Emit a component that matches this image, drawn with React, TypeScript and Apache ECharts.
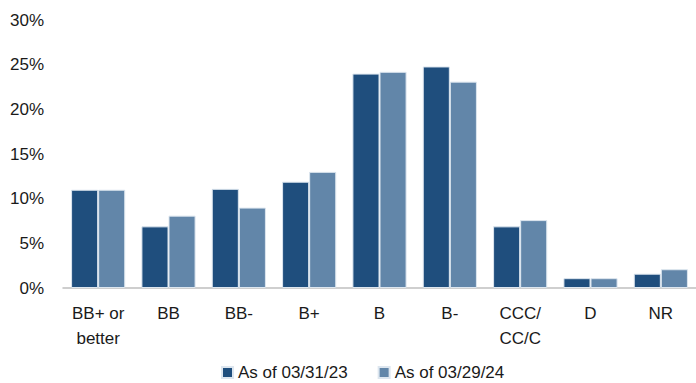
import React, { useEffect, useRef } from "react";
import * as echarts from "echarts";

// Rating buckets along the x-axis
const categories = ["BB+ or\nbetter", "BB", "BB-", "B+", "B", "B-", "CCC/\nCC/C", "D", "NR"];

// Share of portfolio (%) by rating, per snapshot date
const seriesNames = ["As of 03/31/23", "As of 03/29/24"];
const values2023 = [11.0, 6.9, 11.1, 11.9, 24.0, 24.8, 6.9, 1.1, 1.6];
const values2024 = [11.0, 8.1, 9.0, 13.0, 24.2, 23.1, 7.6, 1.1, 2.1];

const yTicks = { min: 0, max: 30, interval: 5 };

const DARK = "#1F4E7D";
const LIGHT = "#6286A9";
const FONT = "'Liberation Sans', Arial, sans-serif";

export default function App() {
  const ref = useRef<HTMLDivElement>(null);

  useEffect(() => {
    document.body.style.margin = "0";
    if (!ref.current) return;
    const chart = echarts.init(ref.current, undefined, { renderer: "svg" });

    const barStyle = (color: string) => ({
      color,
      borderColor: "#dde6ef",
      borderWidth: 1,
    });

    chart.setOption({
      animation: false,
      backgroundColor: "#ffffff",
      textStyle: { fontFamily: FONT },
      grid: { left: 63, right: -1, top: 20, bottom: 95 },
      legend: {
        data: seriesNames,
        left: 216,
        top: 359,
        itemWidth: 11,
        itemHeight: 11,
        itemGap: 30,
        icon: "rect",
        textStyle: { fontSize: 17, color: "#1a1a1a", fontFamily: FONT },
      },
      xAxis: {
        type: "category",
        data: categories,
        axisLine: { show: true, lineStyle: { color: "#bfbfbf", width: 1.5 } },
        axisTick: { show: false },
        axisLabel: {
          fontSize: 17,
          color: "#1a1a1a",
          margin: 13,
          lineHeight: 25,
          interval: 0,
          fontFamily: FONT,
        },
      },
      yAxis: {
        type: "value",
        min: yTicks.min,
        max: yTicks.max,
        interval: yTicks.interval,
        axisLine: { show: false },
        axisTick: { show: false },
        splitLine: { show: false },
        axisLabel: {
          fontSize: 17,
          color: "#1a1a1a",
          margin: 19,
          formatter: "{value}%",
          fontFamily: FONT,
        },
      },
      series: [
        {
          name: seriesNames[0],
          type: "bar",
          data: values2023,
          barGap: "0%",
          barCategoryGap: "23%",
          itemStyle: barStyle(DARK),
        },
        {
          name: seriesNames[1],
          type: "bar",
          data: values2024,
          barGap: "0%",
          barCategoryGap: "23%",
          itemStyle: barStyle(LIGHT),
        },
      ],
    });

    return () => chart.dispose();
  }, []);

  return <div ref={ref} style={{ width: 696, height: 383 }} />;
}
